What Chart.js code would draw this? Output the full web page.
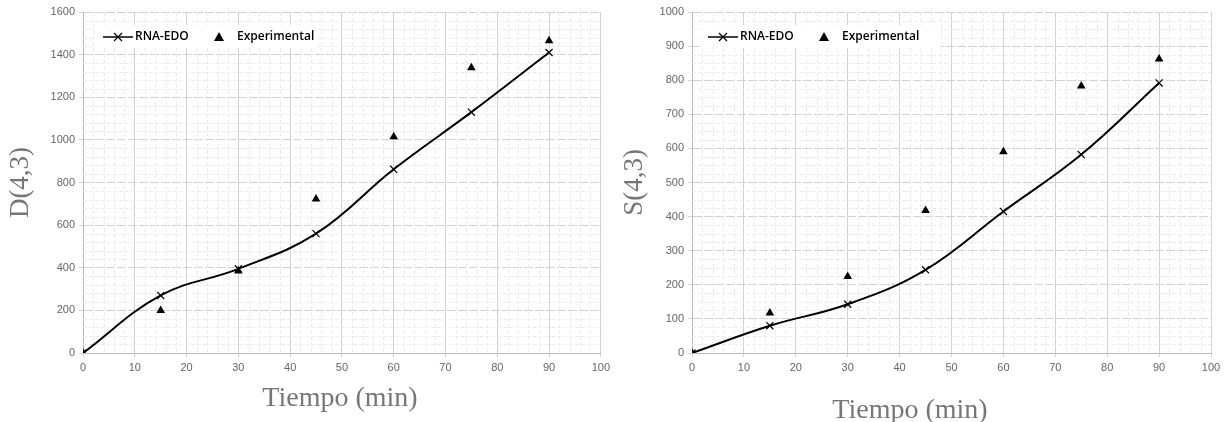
<!DOCTYPE html>
<html>
<head>
<meta charset="utf-8">
<script src="https://cdn.jsdelivr.net/npm/chart.js@4.4.1/dist/chart.umd.min.js"></script>
<style>
  body { margin: 0; background: #fff; }
  .wrap { display: flex; width: 1228px; height: 422px; }
  .box { position: relative; width: 614px; height: 422px; }
</style>
</head>
<body>
<div class="wrap">
  <div class="box"><canvas id="chartD"></canvas></div>
  <div class="box"><canvas id="chartS"></canvas></div>
</div>
<script>
// Data
const tiempo = [0, 15, 30, 45, 60, 75, 90];
const dModel = [0, 270, 395, 560, 862, 1130, 1410];
const dExp = [0, 200, 385, 722, 1015, 1338, 1465];
const sModel = [0, 80, 143, 244, 415, 582, 792];
const sExp = [0, 117, 224, 418, 590, 783, 862];
const xTicks = [0, 10, 20, 30, 40, 50, 60, 70, 80, 90, 100];
const legendLabels = ['RNA-EDO', 'Experimental'];

// minor dashed grid, drawn from the scales
const minorGrid = {
    id: 'minorGrid',
    beforeDatasetsDraw(chart, args, opts) {
        const ctx = chart.ctx;
        const area = chart.chartArea;
        const xs = chart.scales.x, ys = chart.scales.y;
        ctx.save();
        ctx.strokeStyle = '#ececec';
        ctx.lineWidth = 1;
        ctx.setLineDash([4, 2]);
        for (let v = xs.min; v <= xs.max; v += opts.xStep) {
            if (v % xs.options.ticks.stepSize === 0) continue;
            const px = Math.round(xs.getPixelForValue(v)) + 0.5;
            ctx.beginPath(); ctx.moveTo(px, area.top); ctx.lineTo(px, area.bottom); ctx.stroke();
        }
        for (let v = ys.min; v <= ys.max; v += opts.yStep) {
            if (v % ys.options.ticks.stepSize === 0) continue;
            const py = Math.round(ys.getPixelForValue(v)) + 0.5;
            ctx.beginPath(); ctx.moveTo(area.left, py); ctx.lineTo(area.right, py); ctx.stroke();
        }
        ctx.restore();
    }
};

// legend box inside the plot + x title
const innerLegend = {
    id: 'innerLegend',
    afterDraw(chart, args, opts) {
        const ctx = chart.ctx;
        const x = opts.x, y = opts.y;
        ctx.save();
        ctx.fillStyle = '#fff';
        ctx.fillRect(x, y, opts.w, 23);
        const cy = y + 12;
        ctx.strokeStyle = '#000';
        ctx.lineWidth = 1.5;
        ctx.beginPath(); ctx.moveTo(x + 8, cy); ctx.lineTo(x + 38, cy); ctx.stroke();
        ctx.lineWidth = 1.2;
        ctx.beginPath();
        ctx.moveTo(x + 19, cy - 4); ctx.lineTo(x + 27, cy + 4);
        ctx.moveTo(x + 27, cy - 4); ctx.lineTo(x + 19, cy + 4);
        ctx.stroke();
        ctx.fillStyle = '#000';
        ctx.font = '600 12px "Open Sans", sans-serif';
        ctx.textBaseline = 'middle';
        ctx.fillText(legendLabels[0], x + 40, cy);
        ctx.beginPath();
        ctx.moveTo(x + 124, cy - 5); ctx.lineTo(x + 129, cy + 4); ctx.lineTo(x + 119, cy + 4);
        ctx.closePath(); ctx.fill();
        ctx.fillText(legendLabels[1], x + 142, cy);
        // x axis title
        ctx.fillStyle = '#767676';
        ctx.font = '28px "Liberation Serif", serif';
        ctx.textAlign = 'center';
        ctx.textBaseline = 'alphabetic';
        ctx.fillText('Tiempo (min)', opts.titleX, opts.titleY);
        ctx.restore();
    }
};

function makeChart(id, model, exp, yMax, yStep, yMinor, yTitle, pad, yWidth, legendPos, titlePos) {
    const toPts = arr => tiempo.map((t, i) => ({ x: t, y: arr[i] }));
    return new Chart(document.getElementById(id), {
        type: 'scatter',
        data: {
            datasets: [{
                label: legendLabels[0],
                data: toPts(model),
                showLine: true,
                borderColor: '#000',
                borderWidth: 2,
                tension: 0.4,
                pointStyle: 'crossRot',
                pointRadius: 5,
                pointBorderWidth: 1.2,
                pointBorderColor: '#000',
                order: 2
            }, {
                label: legendLabels[1],
                data: toPts(exp),
                showLine: false,
                pointStyle: 'triangle',
                pointRadius: 5,
                backgroundColor: '#000',
                borderColor: '#000',
                borderWidth: 0,
                order: 1
            }]
        },
        options: {
            responsive: true,
            maintainAspectRatio: false,
            animation: false,
            layout: { padding: { top: 12, right: pad, bottom: 0, left: 5 } },
            plugins: {
                legend: { display: false },
                tooltip: { enabled: false },
                minorGrid: { xStep: 2, yStep: yMinor },
                innerLegend: { x: legendPos[0], y: legendPos[1], w: legendPos[2], titleX: titlePos[0], titleY: titlePos[1] }
            },
            scales: {
                x: {
                    type: 'linear',
                    min: 0, max: 100,
                    afterBuildTicks: axis => { axis.ticks = xTicks.map(v => ({ value: v })); },
                    ticks: { stepSize: 10, color: '#666', font: { size: 11, family: '"Liberation Sans", sans-serif' }, padding: 4, callback: v => String(v) },
                    grid: { color: '#d2d2d2', tickLength: 4, drawTicks: true },
                    border: { color: '#bdbdbd' },
                    afterFit: axis => { axis.height = 69; }
                },
                y: {
                    min: 0, max: yMax,
                    ticks: { stepSize: yStep, color: '#666', font: { size: 11, family: '"Liberation Sans", sans-serif' }, padding: 4, callback: v => String(v) },
                    grid: { color: '#d2d2d2', tickLength: 4 },
                    border: { color: '#bdbdbd', dash: [9, 2] },
                    title: { display: true, text: yTitle, color: '#767676', font: { size: 27, family: '"Liberation Serif", serif' }, padding: { top: 0, bottom: 2 } },
                    afterFit: axis => { axis.width = yWidth - 5; }
                }
            }
        },
        plugins: [minorGrid, innerLegend]
    });
}

makeChart('chartD', dModel, dExp, 1600, 200, 40, 'D(4,3)', 13, 83, [95, 25, 220], [340, 406]);
makeChart('chartS', sModel, sExp, 1000, 100, 25, 'S(4,3)', 17, 78, [86, 25, 240], [296, 418]);
</script>
</body>
</html>
